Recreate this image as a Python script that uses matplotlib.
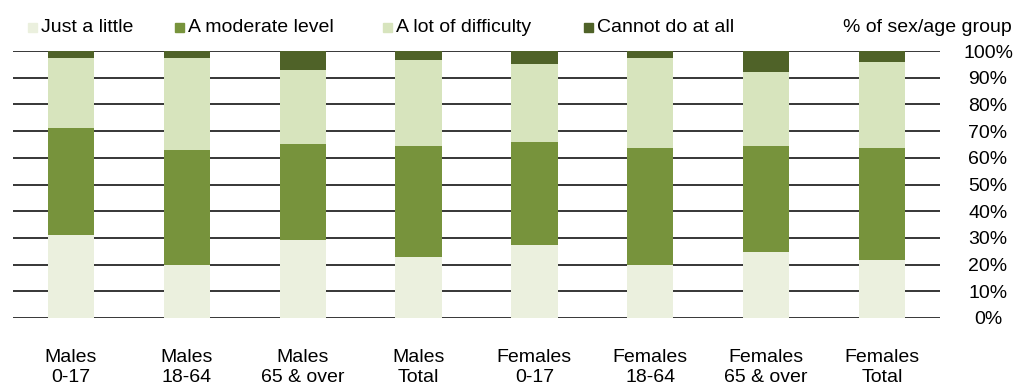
import numpy as np
import matplotlib.pyplot as plt
from matplotlib.patches import Rectangle

plt.rcParams['font.family'] = ['Liberation Sans', 'DejaVu Sans']

groups = ['Males\n0-17', 'Males\n18-64', 'Males\n65 & over', 'Males\nTotal',
          'Females\n0-17', 'Females\n18-64', 'Females\n65 & over', 'Females\nTotal']
series = ['Just a little', 'A moderate level', 'A lot of difficulty', 'Cannot do at all']
just_a_little = [31.0, 19.7, 29.4, 22.7, 27.2, 19.7, 24.9, 21.9]
moderate = [40.1, 43.1, 35.7, 41.6, 38.6, 43.9, 39.4, 41.7]
a_lot = [26.2, 34.5, 27.7, 32.2, 29.2, 33.7, 27.7, 32.2]
cannot = [2.7, 2.7, 7.2, 3.5, 5.0, 2.7, 8.0, 4.2]
colors = ['#EBF0DE', '#77933C', '#D7E4BD', '#4F6228']

W, H = 1017, 388
fig = plt.figure(figsize=(W / 100, H / 100), dpi=100)
ax = fig.add_axes([13 / W, 1 - 318 / H, 927 / W, 267 / H])

x = np.arange(len(groups))
bottom = np.zeros(len(groups))
for name, vals, c in zip(series, [just_a_little, moderate, a_lot, cannot], colors):
    ax.bar(x, vals, 0.4, bottom=bottom, color=c, label=name, zorder=3)
    bottom += np.array(vals)

ax.set_xlim(-0.5, len(groups) - 0.5)
ax.set_ylim(0, 100)
ax.set_yticks(np.arange(0, 101, 10))
ax.set_yticklabels([f'{v}%' for v in range(0, 101, 10)])
ax.yaxis.tick_right()
ax.tick_params(axis='y', length=0, pad=34.6, labelsize=14)
for lbl in ax.get_yticklabels():
    lbl.set_horizontalalignment('center')
ax.set_xticks(x)
ax.set_xticklabels(groups, fontsize=14, linespacing=1.2)
ax.tick_params(axis='x', length=0, pad=22.5)
ax.grid(axis='y', color='black', linewidth=1.1, zorder=1)
for s in ax.spines.values():
    s.set_visible(False)

# legend row across the top, built by hand
legend_x = [28, 175, 383, 584]
ly = 1 - 27.5 / H
for lx, name, c in zip(legend_x, series, colors):
    fig.patches.append(Rectangle((lx / W, 1 - 32 / H), 9 / W, 9 / H,
                                 transform=fig.transFigure, color=c))
    fig.text((lx + 13) / W, ly, name, ha='left', va='center', fontsize=14)
fig.text(1012 / W, ly, '% of sex/age group', ha='right', va='center', fontsize=14)

fig.savefig('out.png', dpi=100)
